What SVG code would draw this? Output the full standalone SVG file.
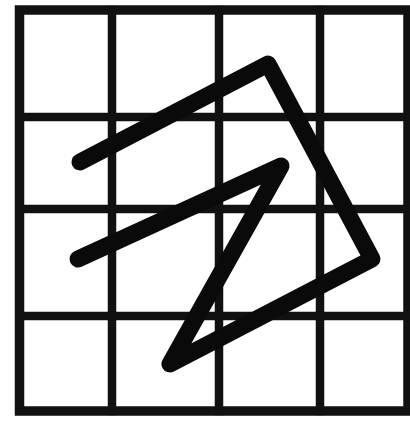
<svg xmlns="http://www.w3.org/2000/svg" width="410" height="427" viewBox="0 0 410 427">
<style>
.grid{stroke:#111;stroke-width:8.5;fill:none;stroke-linecap:square}
.border{stroke:#111;stroke-width:9.5;fill:none}
.fig{stroke:#0a0a0a;stroke-width:17;fill:none;stroke-linejoin:round;stroke-linecap:round}
</style>
<rect width="410" height="427" fill="#fff"/>
<g id="grid">
<rect class="border" x="19.5" y="10" width="388.5" height="401"/>
<line class="grid" x1="112" y1="10" x2="112" y2="411"/>
<line class="grid" x1="219" y1="10" x2="219" y2="411"/>
<line class="grid" x1="320" y1="10" x2="320" y2="411"/>
<line class="grid" x1="19.5" y1="117" x2="408" y2="117"/>
<line class="grid" x1="19.5" y1="209" x2="408" y2="209"/>
<line class="grid" x1="19.5" y1="316" x2="408" y2="316"/>
</g>
<g id="figure">
<path class="fig" d="M80,162 L268,64 L372,259 L170,364 L281,166 L78,259"/>
</g>
</svg>
